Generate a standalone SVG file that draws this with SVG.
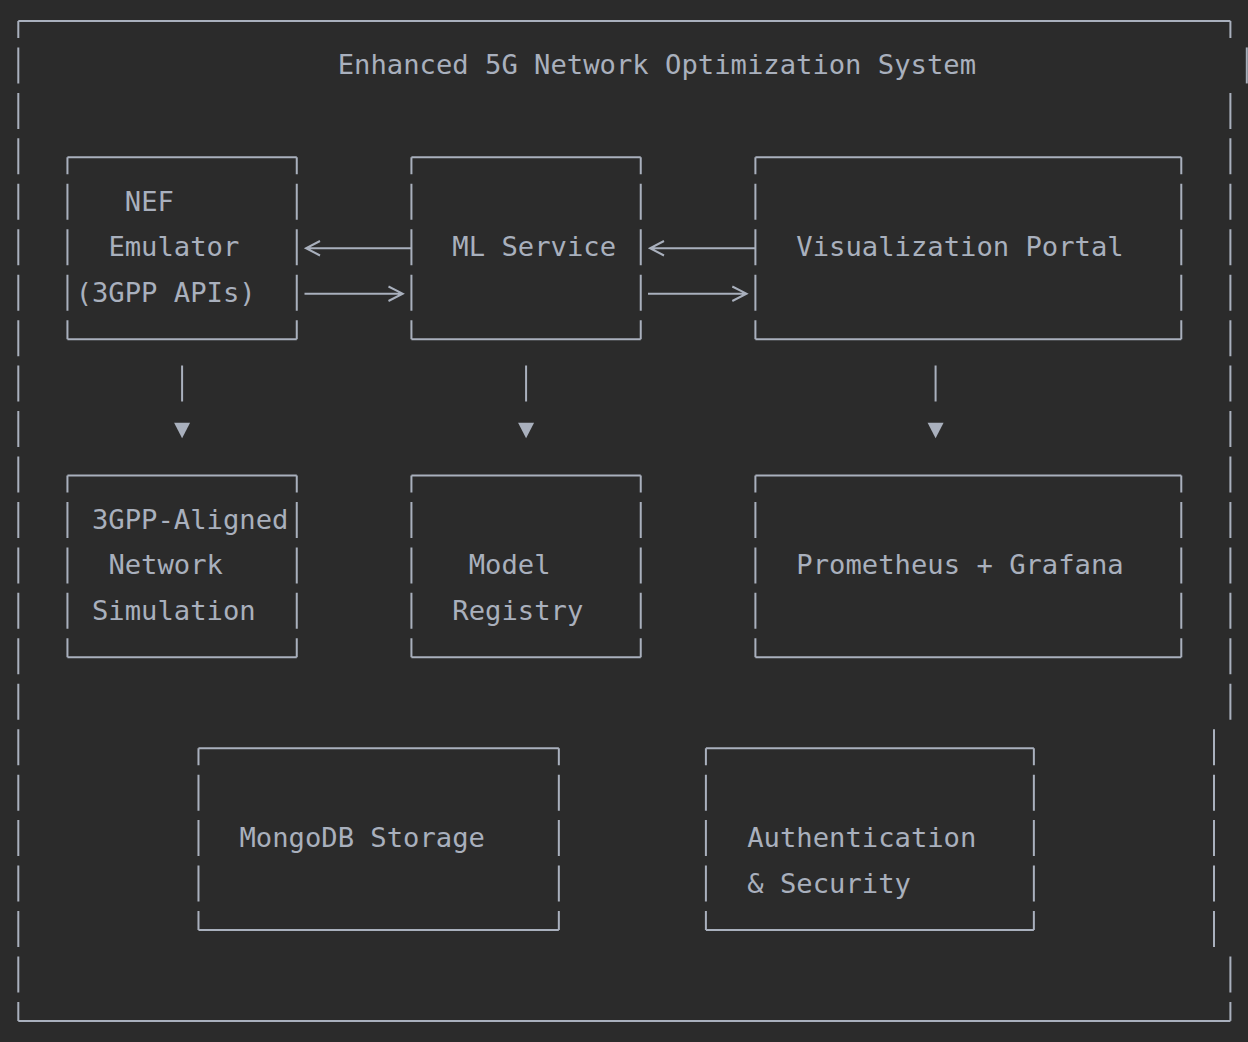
<svg xmlns="http://www.w3.org/2000/svg" width="1248" height="1042" viewBox="0 0 1248 1042">
<style>
.bg{fill:#2b2b2b}
.h{stroke:#a9b0bd;stroke-width:2;fill:none}
.v{stroke:#a9b0bd;stroke-width:2;fill:none;stroke-dasharray:36 9.45;stroke-dashoffset:19}
.v0{stroke:#a9b0bd;stroke-width:2;fill:none;stroke-dasharray:36 9.45}
.t{font-family:"DejaVu Sans Mono","Liberation Mono",monospace;font-size:27.2px;fill:#a9b0bd}
.tri{fill:#a9b0bd}
</style>
<rect class="bg" x="0" y="0" width="1248" height="1042"/>

<g id="system-frame">
  <path class="h" d="M18.3,21 H1230.4 M18.3,1020.9 H1230.4"/>
  <path class="v" d="M18.3,21 V1020.9"/>
  <path class="h" d="M1230.4,21 V38"/>
  <path class="h" d="M1246.8,47.45 V83.45"/>
  <path class="v0" d="M1230.4,92.9 V719.75"/>
  <path class="v0" d="M1214,729.2 V947"/>
  <path class="v0" d="M1230.4,956.45 V1020.9"/>
  <text class="t" x="337.71" y="74.45">Enhanced 5G Network Optimization System</text>
</g>

<g id="nef-emulator">
  <path class="h" d="M67.44,157.35 H296.76 M67.44,339.15 H296.76"/>
  <path class="v" d="M67.44,157.35 V339.15 M296.76,157.35 V339.15"/>
  <text class="t" x="124.77" y="210.8">NEF</text>
  <text class="t" x="108.39" y="256.25">Emulator</text>
  <text class="t" x="75.63" y="301.7">(3GPP APIs)</text>
</g>

<g id="ml-service">
  <path class="h" d="M411.42,157.35 H640.74 M411.42,339.15 H640.74"/>
  <path class="v" d="M411.42,157.35 V339.15 M640.74,157.35 V339.15"/>
  <text class="t" x="452.37" y="256.25">ML Service</text>
</g>

<g id="visualization-portal">
  <path class="h" d="M755.4,157.35 H1181.28 M755.4,339.15 H1181.28"/>
  <path class="v" d="M755.4,157.35 V339.15 M1181.28,157.35 V339.15"/>
  <text class="t" x="796.35" y="256.25">Visualization Portal</text>
</g>

<g id="network-simulation">
  <path class="h" d="M67.44,475.5 H296.76 M67.44,657.3 H296.76"/>
  <path class="v" d="M67.44,475.5 V657.3 M296.76,475.5 V657.3"/>
  <text class="t" x="92.01" y="528.95">3GPP-Aligned</text>
  <text class="t" x="108.39" y="574.4">Network</text>
  <text class="t" x="92.01" y="619.85">Simulation</text>
</g>

<g id="model-registry">
  <path class="h" d="M411.42,475.5 H640.74 M411.42,657.3 H640.74"/>
  <path class="v" d="M411.42,475.5 V657.3 M640.74,475.5 V657.3"/>
  <text class="t" x="468.75" y="574.4">Model</text>
  <text class="t" x="452.37" y="619.85">Registry</text>
</g>

<g id="prometheus-grafana">
  <path class="h" d="M755.4,475.5 H1181.28 M755.4,657.3 H1181.28"/>
  <path class="v" d="M755.4,475.5 V657.3 M1181.28,475.5 V657.3"/>
  <text class="t" x="796.35" y="574.4">Prometheus + Grafana</text>
</g>

<g id="mongodb-storage">
  <path class="h" d="M198.48,748.2 H558.84 M198.48,930 H558.84"/>
  <path class="v" d="M198.48,748.2 V930 M558.84,748.2 V930"/>
  <text class="t" x="239.43" y="847.1">MongoDB Storage</text>
</g>

<g id="auth-security">
  <path class="h" d="M705.9,748.2 H1033.86 M705.9,930 H1033.86"/>
  <path class="v" d="M705.9,748.2 V930 M1033.86,748.2 V930"/>
  <text class="t" x="747.21" y="847.1">Authentication</text>
  <text class="t" x="747.21" y="892.55">&amp; Security</text>
</g>

<g id="connectors">
  <path class="h" d="M306,248.25 H411.42 M320,241 L306,248.25 L320,255.5"/>
  <path class="h" d="M304.5,293.7 H401 M388.5,286.5 L402.7,293.7 L388.5,301"/>
  <path class="h" d="M650,248.25 H755.4 M664,241 L650,248.25 L664,255.5"/>
  <path class="h" d="M648,293.7 H745 M732.3,286.5 L746.5,293.7 L732.3,301"/>
  <path class="h" d="M182.1,365.6 V401.6 M526.08,365.6 V401.6 M935.58,365.6 V401.6"/>
  <polygon class="tri" points="174.1,422.7 190.1,422.7 182.1,438.3"/>
  <polygon class="tri" points="518.08,422.7 534.08,422.7 526.08,438.3"/>
  <polygon class="tri" points="927.58,422.7 943.58,422.7 935.58,438.3"/>
</g>
</svg>
